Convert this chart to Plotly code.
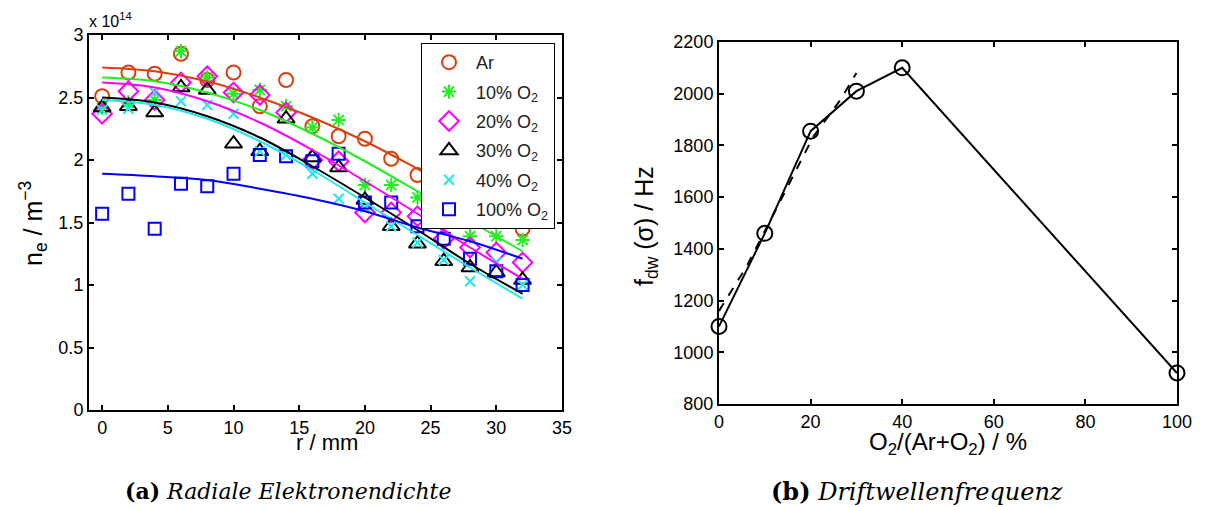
import plotly.graph_objects as go

W, H = 1205, 507
OFF = 8  # page body margin that shifts the plot

# radial positions (mm)
r = [0, 2, 4, 6, 8, 10, 12, 14, 16, 18, 20, 22, 24, 26, 28, 30, 32]
# measured densities (x 1e14 m^-3)
ne_ar = [2.51, 2.70, 2.69, 2.85, 2.64, 2.70, 2.43, 2.64, 2.27, 2.19, 2.17, 2.01, 1.88, 1.78, 1.66, 1.55, 1.45]
ne_10 = [2.42, 2.46, 2.48, 2.87, 2.66, 2.53, 2.56, 2.43, 2.26, 2.32, 1.80, 1.80, 1.70, 1.55, 1.39, 1.39, 1.36]
ne_20 = [2.37, 2.55, 2.48, 2.62, 2.67, 2.54, 2.52, 2.38, 2.00, 1.99, 1.58, 1.58, 1.55, 1.37, 1.30, 1.26, 1.18]
ne_30 = [2.42, 2.43, 2.38, 2.58, 2.56, 2.13, 2.07, 2.33, 2.02, 1.94, 1.68, 1.47, 1.33, 1.19, 1.14, 1.10, 1.04]
ne_40 = [2.40, 2.41, 2.54, 2.47, 2.44, 2.37, 2.07, 2.04, 1.89, 1.69, 1.62, 1.47, 1.34, 1.20, 1.03, 1.18, 1.00]
ne_100 = [1.57, 1.73, 1.45, 1.81, 1.79, 1.89, 2.04, 2.03, 1.99, 2.05, 1.66, 1.66, 1.47, 1.37, 1.21, 1.11, 1.00]

# fitted profiles
r_fit = [0, 4, 8, 12, 16, 20, 24, 28, 32]
fit_ar = [2.74, 2.71, 2.63, 2.50, 2.34, 2.15, 1.93, 1.70, 1.47]
fit_10 = [2.66, 2.63, 2.54, 2.40, 2.21, 1.99, 1.75, 1.51, 1.27]
fit_20 = [2.62, 2.58, 2.47, 2.30, 2.08, 1.83, 1.57, 1.30, 1.05]
fit_30 = [2.50, 2.46, 2.35, 2.18, 1.95, 1.70, 1.44, 1.17, 0.93]
fit_40 = [2.48, 2.44, 2.33, 2.15, 1.92, 1.66, 1.40, 1.14, 0.89]
fit_100 = [1.89, 1.87, 1.84, 1.77, 1.69, 1.59, 1.46, 1.35, 1.21]

# drift wave frequency vs O2 fraction
o2 = [0, 10, 20, 30, 40, 100]
fdw = [1100, 1460, 1855, 2010, 2100, 920]
o2_fit = [0, 6, 12, 20.6, 26.5, 30]
fdw_fit = [1160, 1331, 1538, 1834, 1976, 2080]

names = ["Ar", "10% O<sub>2</sub>", "20% O<sub>2</sub>", "30% O<sub>2</sub>", "40% O<sub>2</sub>", "100% O<sub>2</sub>"]
colors = ["#d9400f", "#22ee22", "#ff00ff", "#000000", "#22e8e8", "#0000ff"]
symbols = ["circle-open", "asterisk-open", "diamond-open", "triangle-up-open", "x-thin-open", "square-open"]
sizes = [14, 12, 15, 15, 10, 12]
meas = [ne_ar, ne_10, ne_20, ne_30, ne_40, ne_100]
fits = [fit_ar, fit_10, fit_20, fit_30, fit_40, fit_100]

FONT = "Liberation Sans, Arial, sans-serif"

fig = go.Figure()
for i, (name, c, s, sz, y) in enumerate(zip(names, colors, symbols, sizes, meas)):
    fig.add_trace(go.Scatter(x=r, y=y, mode="markers", name=name, legendgroup=str(i),
                             marker=dict(symbol=s, size=sz, color=c, line=dict(color=c, width=2)),
                             xaxis="x", yaxis="y"))
for c, y in zip(colors, fits):
    fig.add_trace(go.Scatter(x=r_fit, y=y, mode="lines", showlegend=False,
                             line=dict(color=c, width=2, shape="spline"), xaxis="x", yaxis="y"))

fig.add_trace(go.Scatter(x=o2_fit, y=fdw_fit, mode="lines", showlegend=False,
                         line=dict(color="black", width=2, dash="dash"), xaxis="x2", yaxis="y2"))
fig.add_trace(go.Scatter(x=o2, y=fdw, mode="lines+markers", showlegend=False,
                         line=dict(color="black", width=2),
                         marker=dict(symbol="circle-open", size=15, color="black", line=dict(width=2)),
                         xaxis="x2", yaxis="y2", cliponaxis=False))


# screen pixel -> paper fraction
def px(x):
    return (x - OFF) / W


def py(y):
    return 1 - (y - OFF) / H


ax = dict(showline=True, linecolor="black", linewidth=2, mirror="allticks", ticks="inside",
          ticklen=5, tickwidth=2, tickcolor="black", showgrid=False, zeroline=False, automargin=False,
          tickfont=dict(family=FONT, size=18, color="black"))

fig.update_layout(
    width=W, height=H, margin=dict(l=0, r=0, t=0, b=0),
    paper_bgcolor="white", plot_bgcolor="white", font=dict(family=FONT, color="black"),
    xaxis=dict(ax, domain=[px(89), px(562)], range=[-1, 35], tickvals=[0, 5, 10, 15, 20, 25, 30, 35], anchor="y"),
    yaxis=dict(ax, domain=[py(410), py(35)], range=[0, 3], tickvals=[0, 0.5, 1, 1.5, 2, 2.5, 3],
               ticktext=["0", "0.5", "1", "1.5", "2", "2.5", "3"], anchor="x"),
    xaxis2=dict(ax, domain=[px(719), px(1177)], range=[0, 100], tickvals=[0, 20, 40, 60, 80, 100], anchor="y2"),
    yaxis2=dict(ax, domain=[py(404), py(42)], range=[800, 2200], tickvals=list(range(800, 2201, 200)), anchor="x2"),
    legend=dict(x=px(421), y=py(43), xanchor="left", yanchor="top", bgcolor="white",
                bordercolor="black", borderwidth=1, font=dict(family=FONT, size=18, color="#222"),
                itemwidth=44, tracegroupgap=3),
    showlegend=True,
)

ann = [
    dict(x=px(87), y=py(20), text="x 10<sup>14</sup>", xanchor="left", yanchor="middle", font=dict(size=16)),
    dict(x=px(327), y=py(442), text="r / mm", font=dict(size=22)),
    dict(x=px(33), y=py(224), text="n<sub>e</sub> / m<sup>−3</sup>", textangle=-90, font=dict(size=25)),
    dict(x=px(948), y=py(443), text="O<sub>2</sub>/(Ar+O<sub>2</sub>) / %", font=dict(size=24)),
    dict(x=px(646), y=py(226), text="f<sub>dw</sub> (σ) / Hz", textangle=-90, font=dict(size=25)),
    dict(x=px(288), y=py(491), text="<b>(a)</b> <i>Radiale Elektronendichte</i>",
         font=dict(family="DejaVu Serif, serif", size=22)),
    dict(x=px(917), y=py(491), text="<b>(b)</b> <i>Driftwellenfrequenz</i>",
         font=dict(family="DejaVu Serif, serif", size=24)),
]
for a in ann:
    a.update(xref="paper", yref="paper", showarrow=False)
    a.setdefault("xanchor", "center")
    a.setdefault("yanchor", "middle")
    a["font"] = dict(family=a["font"].get("family", FONT), size=a["font"]["size"], color="black")
fig.update_layout(annotations=ann)

fig.write_html("out.html")
